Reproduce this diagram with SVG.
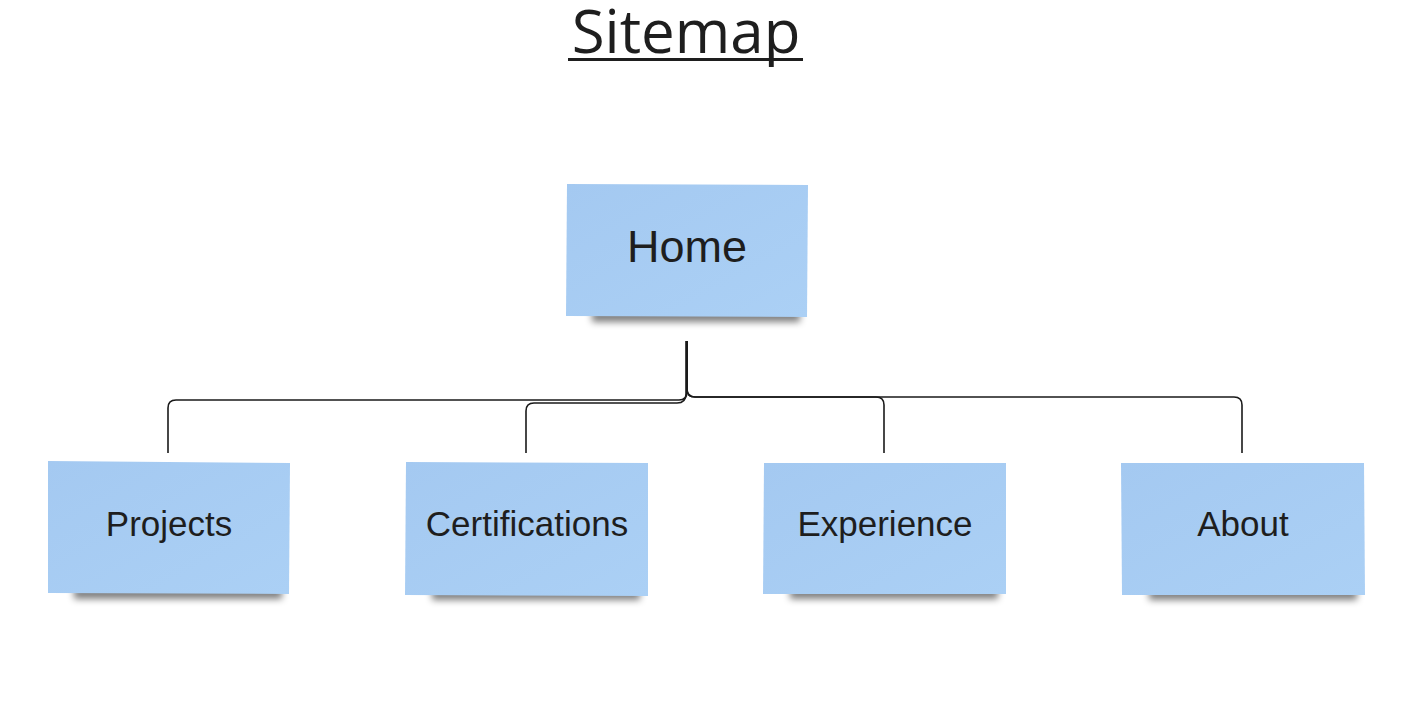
<svg xmlns="http://www.w3.org/2000/svg" width="1411" height="708" viewBox="0 0 1411 708">
<defs>
<linearGradient id="note" x1="0" y1="0" x2="1" y2="1">
<stop offset="0" stop-color="#a4c9f1"/>
<stop offset="1" stop-color="#abd0f5"/>
</linearGradient>
<filter id="blur" x="-20%" y="-200%" width="140%" height="500%">
<feGaussianBlur stdDeviation="3.5"/>
</filter>
<style>
.shadow{fill:#000;opacity:0.5;filter:url(#blur)}
.note{fill:url(#note)}
.lbl{font-family:"Liberation Sans",Arial,sans-serif;fill:#1e1e1e;text-anchor:middle}
.conn{fill:none;stroke:#1a1a1a;stroke-width:1.6}
</style>
</defs>
<rect width="1411" height="708" fill="#ffffff"/>
<g id="title">
<text x="686" y="53" font-family="'Open Sans',sans-serif" font-size="60" fill="#1e1e1e" text-anchor="middle">Sitemap</text>
<rect x="568" y="58" width="235" height="3" fill="#1e1e1e"/>
</g>
<g id="connectors">
<path class="conn" d="M687,341 V392 Q687,400 679,400 H176 Q168,400 168,408 V453"/>
<path class="conn" d="M686,341 V394 Q686,403 677,403 H534 Q526,403 526,411 V453"/>
<path class="conn" d="M687,341 V389 Q687,397 695,397 H876 Q884,397 884,405 V453"/>
<path class="conn" d="M687,341 V389 Q687,397 695,397 H1234 Q1242,397 1242,405 V453"/>
</g>
<g id="home">
<rect class="shadow" x="592" y="310" width="208" height="12"/>
<polygon class="note" points="567,184 808,185 807,317 566,316"/>
<text class="lbl" x="687" y="262" font-size="45">Home</text>
</g>
<g id="projects">
<rect class="shadow" x="74" y="587" width="208" height="12"/>
<polygon class="note" points="48,461 290,463 289,594 48,593"/>
<text class="lbl" x="169" y="536" font-size="35">Projects</text>
</g>
<g id="certifications">
<rect class="shadow" x="432" y="588" width="208" height="12"/>
<polygon class="note" points="406,462 648,463 648,596 405,595"/>
<text class="lbl" x="527" y="536" font-size="35">Certifications</text>
</g>
<g id="experience">
<rect class="shadow" x="790" y="587" width="208" height="12"/>
<polygon class="note" points="764,463 1006,463 1006,594 763,594"/>
<text class="lbl" x="885" y="536" font-size="35">Experience</text>
</g>
<g id="about">
<rect class="shadow" x="1149" y="588" width="208" height="12"/>
<polygon class="note" points="1121,463 1364,463 1365,595 1122,595"/>
<text class="lbl" x="1243" y="536" font-size="35">About</text>
</g>
</svg>
